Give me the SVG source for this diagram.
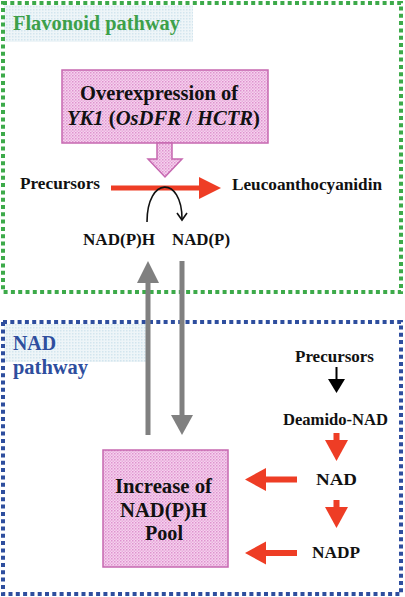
<svg xmlns="http://www.w3.org/2000/svg" width="405" height="597" viewBox="0 0 405 597">
<style>
  .t { font-family: "Liberation Serif", "Times New Roman", serif; font-weight: bold; fill: #111; }
  .it { font-style: italic; }
  .frame { fill: none; stroke-width: 4; stroke-dasharray: 4 3.3; }
  .pinkbox { fill: url(#pinkdots); stroke: #C668B0; stroke-width: 1.5; }
  .label-bg { fill: url(#bluedots); }
  .red { fill: #EE3D25; }
  .gray { fill: #808080; }
</style>
<defs>
  <pattern id="pinkdots" width="3" height="3" patternUnits="userSpaceOnUse">
    <rect width="3" height="3" fill="#F6D2EE"/>
    <rect x="0" y="0" width="1.5" height="1.5" fill="#DE93CF"/>
    <rect x="1.5" y="1.5" width="1.5" height="1.5" fill="#E8AEDD"/>
  </pattern>
  <pattern id="bluedots" width="3" height="3" patternUnits="userSpaceOnUse">
    <rect width="3" height="3" fill="#EEF5F8"/>
    <rect x="0" y="0" width="1.5" height="1.5" fill="#D3E5EE"/>
  </pattern>
</defs>

<g id="flavonoid-pathway">
  <rect class="label-bg" x="4" y="5" width="189" height="37"/>
  <rect class="frame" x="3" y="3" width="398" height="289" stroke="#3DAA4A"/>
  <text class="t" x="13" y="30" font-size="20" textLength="167" lengthAdjust="spacingAndGlyphs" style="fill:#3DA04A">Flavonoid pathway</text>
</g>

<g id="nad-pathway">
  <rect class="label-bg" x="4" y="324" width="143" height="38"/>
  <rect class="frame" x="3" y="322" width="398" height="272" stroke="#2E4E9E"/>
  <text class="t" x="13" y="350" font-size="20" textLength="43" lengthAdjust="spacingAndGlyphs" style="fill:#2E4E9E">NAD</text>
  <text class="t" x="13" y="374" font-size="20" textLength="75" lengthAdjust="spacingAndGlyphs" style="fill:#2E4E9E">pathway</text>
</g>

<g id="overexpression">
  <rect class="pinkbox" x="62" y="70" width="206" height="73"/>
  <text class="t" x="159" y="100" font-size="20" text-anchor="middle" textLength="158" lengthAdjust="spacingAndGlyphs">Overexpression of</text>
  <text class="t" x="163.5" y="125" font-size="20" text-anchor="middle" textLength="193" lengthAdjust="spacingAndGlyphs"><tspan class="it">YK1</tspan> (<tspan class="it">OsDFR</tspan> / <tspan class="it">HCTR</tspan>)</text>
</g>

<g id="precursors-flav">
  <text class="t" x="20" y="189" font-size="17" textLength="80" lengthAdjust="spacingAndGlyphs">Precursors</text>
</g>
<g id="leucoanthocyanidin">
  <text class="t" x="232" y="190" font-size="17" textLength="150" lengthAdjust="spacingAndGlyphs">Leucoanthocyanidin</text>
</g>
<g id="nadph-top">
  <text class="t" x="83" y="245" font-size="17" textLength="72" lengthAdjust="spacingAndGlyphs">NAD(P)H</text>
</g>
<g id="nadp-top">
  <text class="t" x="172" y="245" font-size="17" textLength="58" lengthAdjust="spacingAndGlyphs">NAD(P)</text>
</g>

<g id="precursors-nad">
  <text class="t" x="334.5" y="362" font-size="17" text-anchor="middle" textLength="79" lengthAdjust="spacingAndGlyphs">Precursors</text>
</g>
<g id="deamido-nad">
  <text class="t" x="335.5" y="425" font-size="17" text-anchor="middle" textLength="105" lengthAdjust="spacingAndGlyphs">Deamido-NAD</text>
</g>
<g id="nad">
  <text class="t" x="336.5" y="485" font-size="17" text-anchor="middle" textLength="41" lengthAdjust="spacingAndGlyphs">NAD</text>
</g>
<g id="nadp">
  <text class="t" x="336" y="558" font-size="17" text-anchor="middle" textLength="48" lengthAdjust="spacingAndGlyphs">NADP</text>
</g>

<g id="pool">
  <rect class="pinkbox" x="103" y="450" width="125" height="117"/>
  <text class="t" x="163.5" y="493" font-size="20" text-anchor="middle" textLength="97" lengthAdjust="spacingAndGlyphs">Increase of</text>
  <text class="t" x="163.5" y="517" font-size="20" text-anchor="middle" textLength="87" lengthAdjust="spacingAndGlyphs">NAD(P)H</text>
  <text class="t" x="164" y="540" font-size="20" text-anchor="middle" textLength="38" lengthAdjust="spacingAndGlyphs">Pool</text>
</g>

<g id="connectors">
  <!-- pink block arrow from overexpression box -->
  <path class="pinkbox" d="M157,143 L172,143 L172,159 L182,159 L165,177 L148,159 L157,159 Z"/>
  <!-- red reaction arrow -->
  <rect class="red" x="111" y="185.5" width="91" height="5"/>
  <polygon class="red" points="199,177 221,188 199,199"/>
  <!-- curved cofactor arrow -->
  <path d="M147,222 C147,176 182,176 182,219" fill="none" stroke="#111" stroke-width="1.6"/>
  <path d="M177,213 L182,220 L187,213" fill="none" stroke="#111" stroke-width="1.6"/>
  <!-- gray arrows -->
  <rect class="gray" x="145.5" y="280" width="5" height="155"/>
  <polygon class="gray" points="137,283 148,261 159,283"/>
  <rect class="gray" x="179.5" y="261" width="5" height="156"/>
  <polygon class="gray" points="171,415 193,415 182,435"/>
  <!-- black arrow precursors -> deamido-NAD -->
  <rect x="335.5" y="367" width="2" height="14" fill="#000"/>
  <polygon points="328,379 345,379 336.5,393" fill="#000"/>
  <!-- red down arrows -->
  <rect class="red" x="333.5" y="433" width="6" height="9"/>
  <polygon class="red" points="325,440 348,440 336.5,461"/>
  <rect class="red" x="333.5" y="500" width="6" height="9"/>
  <polygon class="red" points="325,507 348,507 336.5,528"/>
  <!-- red left arrows -->
  <rect class="red" x="263" y="476.5" width="34" height="6"/>
  <polygon class="red" points="266,468 266,491 245,479.5"/>
  <rect class="red" x="263" y="550" width="34" height="6"/>
  <polygon class="red" points="266,541.5 266,564.5 245,553"/>
</g>
</svg>
